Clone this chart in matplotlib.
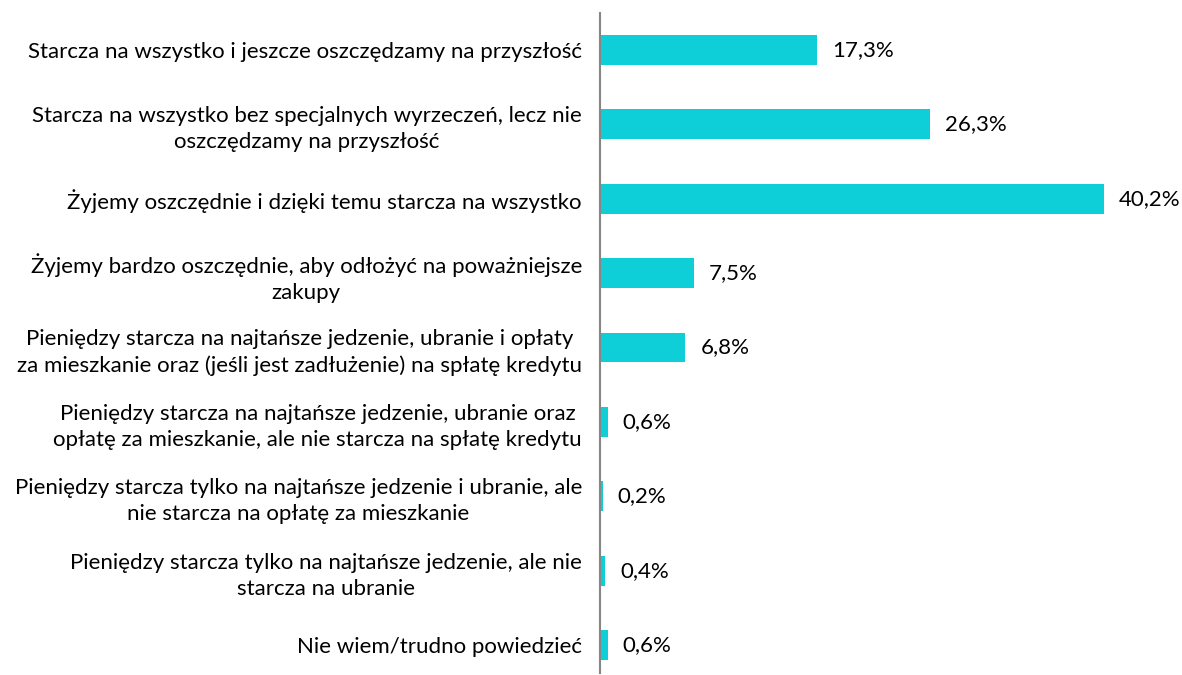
import matplotlib
matplotlib.use("Agg")
import matplotlib.pyplot as plt

categories = [
    "Starcza na wszystko i jeszcze oszczędzamy na przyszłość",
    "Starcza na wszystko bez specjalnych wyrzeczeń, lecz nie\noszczędzamy na przyszłość",
    "Żyjemy oszczędnie i dzięki temu starcza na wszystko",
    "Żyjemy bardzo oszczędnie, aby odłożyć na poważniejsze\nzakupy",
    "Pieniędzy starcza na najtańsze jedzenie, ubranie i opłaty\nza mieszkanie oraz (jeśli jest zadłużenie) na spłatę kredytu",
    "Pieniędzy starcza na najtańsze jedzenie, ubranie oraz\nopłatę za mieszkanie, ale nie starcza na spłatę kredytu",
    "Pieniędzy starcza tylko na najtańsze jedzenie i ubranie, ale\nnie starcza na opłatę za mieszkanie",
    "Pieniędzy starcza tylko na najtańsze jedzenie, ale nie\nstarcza na ubranie",
    "Nie wiem/trudno powiedzieć",
]
values = [17.3, 26.3, 40.2, 7.5, 6.8, 0.6, 0.2, 0.4, 0.6]
value_labels = ["17,3%", "26,3%", "40,2%", "7,5%", "6,8%", "0,6%", "0,2%", "0,4%", "0,6%"]

W, H = 1182, 675
fig = plt.figure(figsize=(W / 100, H / 100), dpi=100)
ax_left, ax_right = 600, 1182
ax_top, ax_bot = 13, 673
ax = fig.add_axes([ax_left / W, 1 - ax_bot / H, (ax_right - ax_left) / W, (ax_bot - ax_top) / H])

px_per_unit_y = 74.4
px_per_pct = 12.54
y = list(range(len(values)))
ax.barh(y, values, height=30 / px_per_unit_y, color="#0ECFD8", edgecolor="none")

ax.set_ylim(8 + (ax_bot - 645) / px_per_unit_y, -(50 - ax_top) / px_per_unit_y)
ax.set_xlim(0, (ax_right - ax_left) / px_per_pct)

font = "Lato"
fs = 16
for yi, v, lab in zip(y, values, value_labels):
    ax.text(v + 15 / px_per_pct, yi, lab, va="center", ha="left", fontsize=fs, family=font, color="#000000")

ax.set_yticks(y)
ax.set_yticklabels(categories, fontsize=fs, family=font, multialignment="center", linespacing=1.38)
ax.tick_params(axis="y", length=0, pad=13)
ax.set_xticks([])
for s in ["top", "right", "bottom"]:
    ax.spines[s].set_visible(False)
ax.spines["left"].set_color("#868686")
ax.spines["left"].set_linewidth(1.5)

fig.savefig("out.png", dpi=100)
